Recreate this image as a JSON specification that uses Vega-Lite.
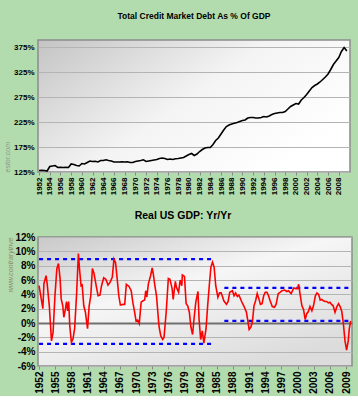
{
  "$schema": "https://vega.github.io/schema/vega-lite/v6.json",
  "background": "#b3dcae",
  "padding": {"left": 2, "top": 10, "right": 8, "bottom": 2},
  "spacing": 13,
  "config": {
    "font": "Liberation Sans",
    "view": {"stroke": "#8c8c8c", "strokeWidth": 1.5},
    "axis": {"labelFontWeight": "bold", "labelColor": "#000", "domain": false, "tickColor": "#888", "gridColor": "#b4b4b4", "gridWidth": 1.2},
    "title": {"fontWeight": "bold", "color": "#000", "anchor": "middle"}
  },
  "datasets": {
    "debt": [
      {"year": 1952.0, "pct": 128}, {"year": 1952.5, "pct": 128.5}, {"year": 1953.0, "pct": 128}, {"year": 1953.5, "pct": 127},
      {"year": 1954.0, "pct": 136}, {"year": 1954.5, "pct": 137}, {"year": 1955.0, "pct": 138}, {"year": 1955.5, "pct": 134},
      {"year": 1956.0, "pct": 134.5}, {"year": 1956.5, "pct": 134}, {"year": 1957.0, "pct": 134.5}, {"year": 1957.5, "pct": 134},
      {"year": 1958.0, "pct": 141}, {"year": 1958.5, "pct": 140}, {"year": 1959.0, "pct": 138}, {"year": 1959.5, "pct": 137},
      {"year": 1960.0, "pct": 142}, {"year": 1960.5, "pct": 141}, {"year": 1961.0, "pct": 144}, {"year": 1961.5, "pct": 147},
      {"year": 1962.0, "pct": 146}, {"year": 1962.5, "pct": 146.5}, {"year": 1963.0, "pct": 145}, {"year": 1963.5, "pct": 148},
      {"year": 1964.0, "pct": 148}, {"year": 1964.5, "pct": 149.5}, {"year": 1965.0, "pct": 148}, {"year": 1965.5, "pct": 147},
      {"year": 1966.0, "pct": 145}, {"year": 1966.5, "pct": 145}, {"year": 1967.0, "pct": 145}, {"year": 1967.5, "pct": 145.5},
      {"year": 1968.0, "pct": 145}, {"year": 1968.5, "pct": 145.5}, {"year": 1969.0, "pct": 144}, {"year": 1969.5, "pct": 144},
      {"year": 1970.0, "pct": 146}, {"year": 1970.5, "pct": 147}, {"year": 1971.0, "pct": 148}, {"year": 1971.5, "pct": 149.5},
      {"year": 1972.0, "pct": 146}, {"year": 1972.5, "pct": 147}, {"year": 1973.0, "pct": 148}, {"year": 1973.5, "pct": 149},
      {"year": 1974.0, "pct": 150}, {"year": 1974.5, "pct": 152}, {"year": 1975.0, "pct": 153}, {"year": 1975.5, "pct": 152},
      {"year": 1976.0, "pct": 150}, {"year": 1976.5, "pct": 151}, {"year": 1977.0, "pct": 150}, {"year": 1977.5, "pct": 151.5},
      {"year": 1978.0, "pct": 152}, {"year": 1978.5, "pct": 153}, {"year": 1979.0, "pct": 154}, {"year": 1979.5, "pct": 157},
      {"year": 1980.0, "pct": 160}, {"year": 1980.5, "pct": 162}, {"year": 1981.0, "pct": 158}, {"year": 1981.5, "pct": 161},
      {"year": 1982.0, "pct": 166}, {"year": 1982.5, "pct": 170}, {"year": 1983.0, "pct": 173}, {"year": 1983.5, "pct": 174},
      {"year": 1984.0, "pct": 174}, {"year": 1984.5, "pct": 180}, {"year": 1985.0, "pct": 188}, {"year": 1985.5, "pct": 193},
      {"year": 1986.0, "pct": 201}, {"year": 1986.5, "pct": 209}, {"year": 1987.0, "pct": 216}, {"year": 1987.5, "pct": 219},
      {"year": 1988.0, "pct": 221}, {"year": 1988.5, "pct": 222.5}, {"year": 1989.0, "pct": 224}, {"year": 1989.5, "pct": 226},
      {"year": 1990.0, "pct": 228}, {"year": 1990.5, "pct": 229}, {"year": 1991.0, "pct": 233}, {"year": 1991.5, "pct": 234},
      {"year": 1992.0, "pct": 234}, {"year": 1992.5, "pct": 233}, {"year": 1993.0, "pct": 233}, {"year": 1993.5, "pct": 234},
      {"year": 1994.0, "pct": 236}, {"year": 1994.5, "pct": 235}, {"year": 1995.0, "pct": 237}, {"year": 1995.5, "pct": 240},
      {"year": 1996.0, "pct": 242}, {"year": 1996.5, "pct": 243}, {"year": 1997.0, "pct": 244}, {"year": 1997.5, "pct": 244},
      {"year": 1998.0, "pct": 246}, {"year": 1998.5, "pct": 251}, {"year": 1999.0, "pct": 256}, {"year": 1999.5, "pct": 259},
      {"year": 2000.0, "pct": 262}, {"year": 2000.5, "pct": 261}, {"year": 2001.0, "pct": 269}, {"year": 2001.5, "pct": 274},
      {"year": 2002.0, "pct": 280}, {"year": 2002.5, "pct": 287}, {"year": 2003.0, "pct": 294}, {"year": 2003.5, "pct": 298},
      {"year": 2004.0, "pct": 301}, {"year": 2004.5, "pct": 305}, {"year": 2005.0, "pct": 310}, {"year": 2005.5, "pct": 315},
      {"year": 2006.0, "pct": 321}, {"year": 2006.5, "pct": 330}, {"year": 2007.0, "pct": 340}, {"year": 2007.5, "pct": 347},
      {"year": 2008.0, "pct": 354}, {"year": 2008.5, "pct": 366}, {"year": 2009.0, "pct": 374}, {"year": 2009.3, "pct": 370},
      {"year": 2009.5, "pct": 367}
    ],
    "gdp": [
      {"year": 1952.0, "pct": 5.2}, {"year": 1952.7, "pct": 2.0}, {"year": 1952.9, "pct": 5.5}, {"year": 1953.3, "pct": 6.6},
      {"year": 1953.5, "pct": 5.5}, {"year": 1953.9, "pct": 2.4}, {"year": 1954.3, "pct": -2.5}, {"year": 1954.6, "pct": -1.3},
      {"year": 1954.95, "pct": 3.8}, {"year": 1955.3, "pct": 7.6}, {"year": 1955.6, "pct": 8.3}, {"year": 1955.9, "pct": 6.2},
      {"year": 1956.1, "pct": 3.4}, {"year": 1956.4, "pct": 2.4}, {"year": 1956.6, "pct": 0.8}, {"year": 1956.9, "pct": 2.0},
      {"year": 1957.1, "pct": 3.0}, {"year": 1957.3, "pct": 1.7}, {"year": 1957.5, "pct": 3.0}, {"year": 1957.7, "pct": -0.4},
      {"year": 1958.0, "pct": -2.7}, {"year": 1958.3, "pct": -2.2}, {"year": 1958.6, "pct": -0.8}, {"year": 1958.95, "pct": 3.8},
      {"year": 1959.3, "pct": 9.7}, {"year": 1959.5, "pct": 7.6}, {"year": 1959.8, "pct": 5.2}, {"year": 1960.0, "pct": 5.3},
      {"year": 1960.3, "pct": 2.4}, {"year": 1960.6, "pct": 1.5}, {"year": 1961.0, "pct": -0.8}, {"year": 1961.3, "pct": 2.4},
      {"year": 1961.6, "pct": 3.8}, {"year": 1961.9, "pct": 7.6}, {"year": 1962.2, "pct": 6.9}, {"year": 1962.6, "pct": 5.2},
      {"year": 1962.95, "pct": 3.8}, {"year": 1963.3, "pct": 3.9}, {"year": 1963.6, "pct": 5.2}, {"year": 1964.0, "pct": 6.3},
      {"year": 1964.4, "pct": 6.1}, {"year": 1964.8, "pct": 5.3}, {"year": 1965.2, "pct": 5.7}, {"year": 1965.6, "pct": 6.4},
      {"year": 1965.9, "pct": 8.9}, {"year": 1966.2, "pct": 8.4}, {"year": 1966.5, "pct": 6.2}, {"year": 1966.8, "pct": 3.8},
      {"year": 1967.1, "pct": 2.5}, {"year": 1967.6, "pct": 2.6}, {"year": 1967.9, "pct": 2.6}, {"year": 1968.2, "pct": 5.4},
      {"year": 1968.7, "pct": 5.1}, {"year": 1969.1, "pct": 4.5}, {"year": 1969.4, "pct": 2.9}, {"year": 1969.7, "pct": 1.7},
      {"year": 1970.0, "pct": 0.3}, {"year": 1970.3, "pct": 0.4}, {"year": 1970.6, "pct": -0.1}, {"year": 1970.95, "pct": 2.9},
      {"year": 1971.3, "pct": 3.1}, {"year": 1971.6, "pct": 3.2}, {"year": 1971.8, "pct": 4.5}, {"year": 1972.0, "pct": 3.6},
      {"year": 1972.3, "pct": 5.5}, {"year": 1972.7, "pct": 6.6}, {"year": 1973.0, "pct": 7.7}, {"year": 1973.2, "pct": 6.9},
      {"year": 1973.5, "pct": 5.2}, {"year": 1973.8, "pct": 3.8}, {"year": 1974.2, "pct": 0.1}, {"year": 1974.3, "pct": -0.6},
      {"year": 1974.6, "pct": -1.8}, {"year": 1974.95, "pct": -2.3}, {"year": 1975.2, "pct": -2.0}, {"year": 1975.6, "pct": 1.5},
      {"year": 1976.0, "pct": 6.2}, {"year": 1976.3, "pct": 6.1}, {"year": 1976.7, "pct": 4.8}, {"year": 1976.9, "pct": 3.3},
      {"year": 1977.3, "pct": 5.8}, {"year": 1977.5, "pct": 5.0}, {"year": 1977.9, "pct": 4.3}, {"year": 1978.2, "pct": 6.0},
      {"year": 1978.5, "pct": 5.2}, {"year": 1978.6, "pct": 6.7}, {"year": 1979.0, "pct": 6.5}, {"year": 1979.3, "pct": 2.7},
      {"year": 1979.6, "pct": 2.4}, {"year": 1979.9, "pct": 1.5}, {"year": 1980.2, "pct": -0.6}, {"year": 1980.5, "pct": -1.6},
      {"year": 1980.8, "pct": 0.8}, {"year": 1981.1, "pct": 2.9}, {"year": 1981.5, "pct": 4.4}, {"year": 1981.7, "pct": 0.6},
      {"year": 1982.0, "pct": -2.3}, {"year": 1982.3, "pct": -1.1}, {"year": 1982.6, "pct": -2.8}, {"year": 1983.0, "pct": -0.8},
      {"year": 1983.3, "pct": 2.4}, {"year": 1983.6, "pct": 5.2}, {"year": 1983.9, "pct": 7.8}, {"year": 1984.2, "pct": 8.5},
      {"year": 1984.5, "pct": 7.8}, {"year": 1984.8, "pct": 5.2}, {"year": 1985.2, "pct": 3.6}, {"year": 1985.5, "pct": 4.2},
      {"year": 1985.8, "pct": 4.2}, {"year": 1986.0, "pct": 3.8}, {"year": 1986.3, "pct": 3.1}, {"year": 1986.8, "pct": 2.6},
      {"year": 1987.1, "pct": 3.0}, {"year": 1987.4, "pct": 4.3}, {"year": 1987.9, "pct": 4.5}, {"year": 1988.2, "pct": 3.8},
      {"year": 1988.5, "pct": 4.2}, {"year": 1988.8, "pct": 3.7}, {"year": 1989.1, "pct": 3.9}, {"year": 1989.6, "pct": 3.0},
      {"year": 1990.0, "pct": 2.4}, {"year": 1990.5, "pct": 1.5}, {"year": 1990.8, "pct": 0.1}, {"year": 1991.0, "pct": -0.9},
      {"year": 1991.3, "pct": -0.6}, {"year": 1991.6, "pct": 0.1}, {"year": 1991.9, "pct": 2.4}, {"year": 1992.2, "pct": 3.1},
      {"year": 1992.5, "pct": 4.1}, {"year": 1992.8, "pct": 3.4}, {"year": 1993.1, "pct": 2.6}, {"year": 1993.4, "pct": 2.7},
      {"year": 1993.7, "pct": 3.8}, {"year": 1994.0, "pct": 4.3}, {"year": 1994.3, "pct": 4.3}, {"year": 1994.6, "pct": 3.8},
      {"year": 1994.9, "pct": 3.1}, {"year": 1995.3, "pct": 2.3}, {"year": 1995.7, "pct": 2.2}, {"year": 1996.0, "pct": 2.6},
      {"year": 1996.4, "pct": 4.1}, {"year": 1996.8, "pct": 4.3}, {"year": 1997.1, "pct": 4.5}, {"year": 1997.6, "pct": 4.6},
      {"year": 1998.0, "pct": 4.4}, {"year": 1998.3, "pct": 4.5}, {"year": 1998.8, "pct": 4.1}, {"year": 1999.3, "pct": 4.9},
      {"year": 1999.7, "pct": 4.8}, {"year": 2000.0, "pct": 4.8}, {"year": 2000.2, "pct": 5.4}, {"year": 2000.4, "pct": 4.3},
      {"year": 2000.8, "pct": 2.4}, {"year": 2001.1, "pct": 1.9}, {"year": 2001.4, "pct": 0.5}, {"year": 2001.7, "pct": 1.3},
      {"year": 2002.0, "pct": 1.6}, {"year": 2002.3, "pct": 2.3}, {"year": 2002.65, "pct": 1.7}, {"year": 2002.95, "pct": 2.4},
      {"year": 2003.3, "pct": 3.8}, {"year": 2003.6, "pct": 4.2}, {"year": 2003.9, "pct": 4.0}, {"year": 2004.2, "pct": 3.2},
      {"year": 2004.5, "pct": 3.3}, {"year": 2004.8, "pct": 3.1}, {"year": 2005.1, "pct": 3.0}, {"year": 2005.4, "pct": 3.0},
      {"year": 2005.7, "pct": 2.8}, {"year": 2006.0, "pct": 2.9}, {"year": 2006.3, "pct": 2.6}, {"year": 2006.6, "pct": 2.4},
      {"year": 2006.95, "pct": 1.5}, {"year": 2007.3, "pct": 2.3}, {"year": 2007.6, "pct": 2.7}, {"year": 2007.9, "pct": 2.3},
      {"year": 2008.2, "pct": 1.6}, {"year": 2008.5, "pct": -0.1}, {"year": 2008.8, "pct": -2.5}, {"year": 2009.1, "pct": -3.8},
      {"year": 2009.4, "pct": -2.5}, {"year": 2009.6, "pct": -0.8}, {"year": 2009.85, "pct": 0.3}
    ],
    "bands": [
      {"year": 1952.0, "end": 1984.6, "pct": 8.9},
      {"year": 1952.0, "end": 1984.6, "pct": -2.9},
      {"year": 1986.4, "end": 2010.0, "pct": 4.9},
      {"year": 1986.4, "end": 2010.0, "pct": 0.3}
    ]
  },
  "vconcat": [
    {
      "width": 312,
      "height": 132,
      "title": {"text": "Total Credit Market Debt As % Of GDP", "fontSize": 8.5, "offset": 20},
      "view": {"fill": {"gradient": "linear", "x1": 0, "y1": 0, "x2": 1, "y2": 0.6, "stops": [{"offset": 0, "color": "#c4c4c4"}, {"offset": 0.55, "color": "#f4f4f4"}, {"offset": 1, "color": "#ffffff"}]}},
      "data": {"name": "debt"},
      "mark": {"type": "line", "color": "#000000", "strokeWidth": 1.6},
      "encoding": {
        "x": {"field": "year", "type": "quantitative", "scale": {"domain": [1951.8, 2010.1], "nice": false, "zero": false},
              "axis": {"title": null, "values": [1952,1954,1956,1958,1960,1962,1964,1966,1968,1970,1972,1974,1976,1978,1980,1982,1984,1986,1988,1990,1992,1994,1996,1998,2000,2002,2004,2006,2008], "format": "d", "labelAngle": -90, "labelFontSize": 8, "grid": false, "tickSize": 3, "labelPadding": 2, "labelOverlap": false}},
        "y": {"field": "pct", "type": "quantitative", "scale": {"domain": [125, 389], "nice": false, "zero": false},
              "axis": {"title": "estor.com", "titleAnchor": "start", "titleFontSize": 7, "titleFontWeight": "normal", "titleFontStyle": "italic", "titleColor": "#8a9a8a", "titlePadding": 3, "values": [125,175,225,275,325,375], "labelExpr": "datum.value + '%'", "labelFontSize": 8, "ticks": false, "labelPadding": 4}}
      }
    },
    {
      "width": 314,
      "height": 129,
      "title": {"text": "Real US GDP: Yr/Yr", "fontSize": 10.5, "offset": 11, "dx": -12},
      "view": {"fill": {"gradient": "linear", "x1": 0, "y1": 0, "x2": 0.7, "y2": 1, "stops": [{"offset": 0, "color": "#c8c8c8"}, {"offset": 0.45, "color": "#f6f6f6"}, {"offset": 1, "color": "#dcdcdc"}]}},
      "encoding": {
        "x": {"field": "year", "type": "quantitative", "scale": {"domain": [1951.8, 2010.1], "nice": false, "zero": false},
              "axis": {"title": null, "values": [1952,1955,1958,1961,1964,1967,1970,1973,1976,1979,1982,1985,1988,1991,1994,1997,2000,2003,2006,2009], "format": "d", "labelAngle": -90, "labelFontSize": 10, "grid": false, "tickSize": 3, "labelPadding": 2, "labelOverlap": false}},
        "y": {"field": "pct", "type": "quantitative", "scale": {"domain": [-6, 12], "nice": false, "zero": false},
              "axis": {"title": "www.contraryinve", "titleAnchor": "end", "titleFontSize": 7, "titleFontWeight": "normal", "titleFontStyle": "italic", "titleColor": "#8a8a6a", "titlePadding": 1, "values": [-6,-4,-2,0,2,4,6,8,10,12], "labelExpr": "datum.value + '%'", "labelFontSize": 10, "ticks": false, "labelPadding": 3,
                       "gridColor": {"condition": {"test": "datum.value === 0", "value": "#707070"}, "value": "#b4b4b4"},
                       "gridWidth": {"condition": {"test": "datum.value === 0", "value": 2}, "value": 1.2}}}
      },
      "layer": [
        {
          "data": {"name": "bands"},
          "mark": {"type": "rule", "color": "#0000ff", "strokeWidth": 2.2, "strokeDash": [4, 4]},
          "encoding": {"x2": {"field": "end"}}
        },
        {
          "data": {"name": "gdp"},
          "mark": {"type": "line", "color": "#ff0000", "strokeWidth": 1.6}
        }
      ]
    }
  ]
}
